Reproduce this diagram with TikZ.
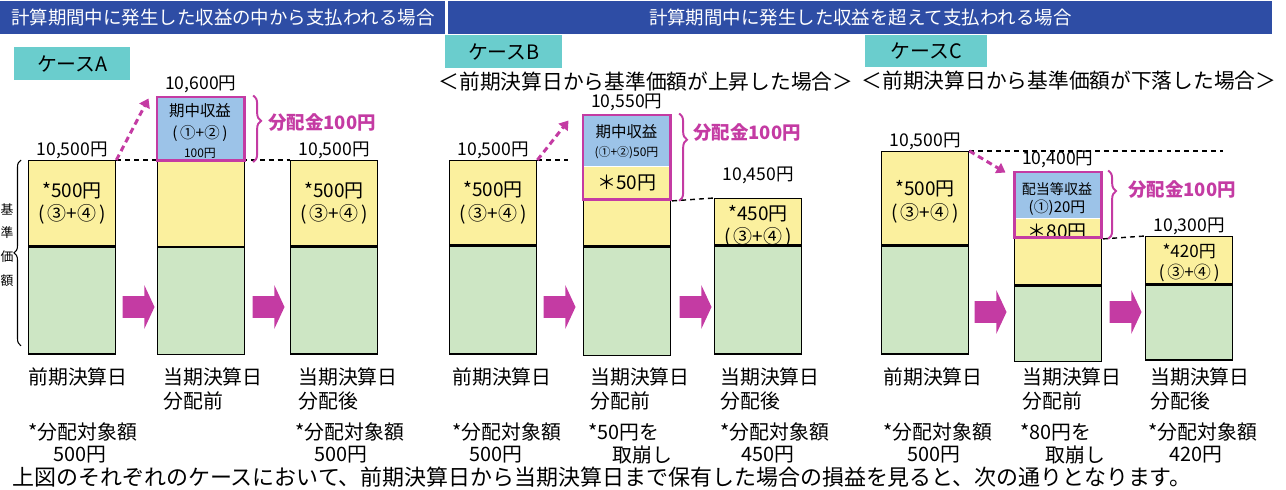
\documentclass[tikz,border=0pt]{standalone}
\usepackage{fontspec}
\setmainfont{Noto Sans CJK JP}
\usetikzlibrary{positioning,arrows.meta,fit,backgrounds,shapes.arrows,decorations.pathreplacing}
\definecolor{hdrblue}{HTML}{2E4DA5}
\definecolor{caseteal}{HTML}{6ACDCD}
\definecolor{baryellow}{HTML}{FBF09E}
\definecolor{bargreen}{HTML}{CDE6C4}
\definecolor{incblue}{HTML}{9CC3E8}
\definecolor{mag}{HTML}{C43BA3}

\begin{document}
\begin{tikzpicture}[x=0.02cm, y=-0.02cm,
      hdr/.style={fill=hdrblue, text=white, inner sep=0, anchor=north west,
                  minimum height=0.66cm, font=\fontsize{10.5}{12}\selectfont},
      casebox/.style={fill=caseteal, inner sep=0, anchor=north west,
                      minimum height=0.66cm, font=\fontsize{11.3}{13}\selectfont},
      subttl/.style={inner sep=0, font=\fontsize{11.8}{14}\selectfont},
      yel/.style={draw, line width=0.8pt, fill=baryellow, minimum width=1.74cm,
                  inner sep=0, anchor=north west},
      grn/.style={draw, line width=0.8pt, fill=bargreen, minimum width=1.74cm,
                  inner sep=0, anchor=north west},
      inc/.style={fill=incblue, minimum width=1.74cm, inner sep=0, anchor=north west},
      incy/.style={fill=baryellow, minimum width=1.74cm, inner sep=0, anchor=north west},
      frm/.style={draw=mag, line width=1.7pt, inner sep=0},
      price/.style={inner sep=0.6pt, font=\fontsize{10}{11}\selectfont},
      val/.style={inner sep=0, align=center, font=\fontsize{10.8}{13.4}\selectfont},
      boxtxt/.style={inner sep=0, font=\fontsize{8.8}{10}\selectfont},
      dist/.style={inner sep=0, anchor=west, text=mag,
                   font=\bfseries\fontsize{10.5}{12}\selectfont},
      lbl/.style={inner sep=0, anchor=west, font=\fontsize{11.3}{13}\selectfont},
      carry/.style={single arrow, fill=mag, inner xsep=0, inner ysep=0.21cm,
                    minimum height=0.64cm, minimum width=0.86cm,
                    single arrow head extend=0.22cm, single arrow tip angle=130,
                    single arrow head indent=0},
      lvline/.style={line width=0.8pt, dash pattern=on 2.8pt off 2.3pt},
      risearrow/.style={mag, line width=1.7pt, dash pattern=on 3.4pt off 2.3pt,
                        -{Triangle[length=5pt,width=6.5pt]}},
      dbrace/.style={decorate, draw=mag, line width=1.1pt,
                     decoration={brace, amplitude=4.5pt, aspect=#1}}
    ]
    \useasboundingbox (0,0) rectangle (1286,490);

    % headers
    \node[hdr, minimum width=8.9cm] (hdra) at (0,1)
      {計算期間中に発生した収益の中から支払われる場合};
    \node[hdr, minimum width=16.48cm] (hdrb) at (448,1)
      {計算期間中に発生した収益を超えて支払われる場合};
    \node[casebox, minimum width=2.32cm] (casea) at (14,47) {ケースA};
    \node[casebox, minimum width=2.34cm] (caseb) at (445,35) {ケースB};
    \node[casebox, minimum width=2.44cm, minimum height=0.64cm] (casec) at (865,35) {ケースC};
    \node[subttl] (subb) at (646,82) {＜前期決算日から基準価額が上昇した場合＞};
    \node[subttl] (subc) at (1069,81) {＜前期決算日から基準価額が下落した場合＞};

    % case A
    \node[yel, minimum height=1.70cm] (a1y) at (28,160) {};
    \node[val] (a1v) at (a1y) {*500円\\(\,③+④\,)};
    \node[grn, minimum height=2.14cm, below=0pt of a1y] (a1g) {};
    \node[inc, minimum height=1.26cm] (a2b) at (157,97) {};
    \node[yel, minimum height=1.70cm, below=0pt of a2b] (a2y) {};
    \node[grn, minimum height=2.14cm, below=0pt of a2y] (a2g) {};
    \node[boxtxt] (a2t1) at (200,111) {期中収益};
    \node[boxtxt] (a2t2) at (200,133) {(\,①+②\,)};
    \node[boxtxt, font=\fontsize{6.8}{8}\selectfont] (a2t3) at (200,153) {100円};
    \node[frm, fit=(a2b)] (a2f) {};
    \node[yel, minimum height=1.70cm] (a3y) at (290,160) {};
    \node[val] (a3v) at (a3y) {*500円\\(\,③+④\,)};
    \node[grn, minimum height=2.14cm, below=0pt of a3y] (a3g) {};

    \node[price, above=0pt of a1y] (a1p) {10,500円};
    \node[price, above=1pt of a2f] (a2p) {10,600円};
    \node[price, above=0pt of a3y] (a3p) {10,500円};
    \draw[dbrace=0.38] ([xshift=0.14cm]a2f.north east) -- ([xshift=0.14cm]a2f.south east);
    \node[dist] (a2d) at (268,123) {分配金100円};

    \node[carry] (a12) at (136,307) {};
    \node[carry] (a23) at (266,307) {};

    \draw[decorate, decoration={brace, amplitude=4pt}, line width=0.6pt]
      ([xshift=-0.14cm, yshift=0.18cm]a1g.south west) -- ([xshift=-0.14cm]a1y.north west);
    \node[val, font=\fontsize{7.3}{13.6}\selectfont] (kijun) at (7,245) {基\\準\\価\\額};

    % case B
    \node[yel, minimum height=1.68cm] (b1y) at (449,160) {};
    \node[val] (b1v) at (b1y) {*500円\\(\,③+④\,)};
    \node[grn, minimum height=2.16cm, below=0pt of b1y] (b1g) {};
    \node[inc, minimum height=1.02cm] (b2b) at (583,115) {};
    \node[incy, minimum height=0.64cm, below=0pt of b2b] (b2t) {};
    \node[yel, minimum height=0.92cm, below=0pt of b2t] (b2y) {};
    \node[grn, minimum height=2.16cm, below=0pt of b2y] (b2g) {};
    \node[boxtxt] (b2t1) at (626.5,132) {期中収益};
    \node[boxtxt, font=\fontsize{6.8}{8}\selectfont] (b2t2) at (626.5,153) {(①+②)50円};
    \node[val] (b2t3) at (b2t) {＊50円};
    \node[frm, fit=(b2b)(b2t)] (b2f) {};
    \node[yel, minimum height=0.92cm] (b3y) at (714,198) {};
    \node[val] (b3v) at ([yshift=-0.09cm]b3y.center) {*450円\\(\,③+④\,)};
    \node[grn, minimum height=2.16cm, below=0pt of b3y] (b3g) {};

    \node[price, above=0pt of b1y] (b1p) {10,500円};
    \node[price, above=1pt of b2f] (b2p) {10,550円};
    \node[price, above=0.26cm of b3y] (b3p) {10,450円};
    \draw[dbrace=0.3] ([xshift=0.14cm]b2f.north east) -- ([xshift=0.14cm]b2f.south east);
    \node[dist] (b2d) at (693,133) {分配金100円};

    \node[carry] (b12) at (557,307) {};
    \node[carry] (b23) at (693,307) {};

    % case C
    \node[yel, minimum height=1.86cm] (c1y) at (881,151) {};
    \node[val] (c1v) at ([yshift=-0.07cm]c1y.center) {*500円\\(\,③+④\,)};
    \node[grn, minimum height=2.16cm, below=0pt of c1y] (c1g) {};
    \node[inc, minimum height=0.92cm] (c2b) at (1014,172) {};
    \node[incy, minimum height=0.36cm, below=0pt of c2b] (c2t) {};
    \node[boxtxt, font=\fontsize{8}{10}\selectfont] (c2t1) at (1057,189) {配当等収益};
    \node[boxtxt, font=\fontsize{8.5}{10}\selectfont] (c2t2) at (1057,208) {(①)20円};
    \node[val] (c2t3) at (1057,232) {＊80円};
    \node[yel, minimum height=0.94cm, below=0pt of c2t] (c2y) {};
    \node[grn, minimum height=1.50cm, below=0pt of c2y] (c2g) {};
    \node[frm, fit=(c2b)(c2t)] (c2f) {};
    \node[yel, minimum height=0.94cm] (c3y) at (1145,236) {};
    \node[val, font=\fontsize{9.7}{12}\selectfont] (c3v) at ([yshift=-0.06cm]c3y.center)
      {*420円\\(\,③+④\,)};
    \node[grn, minimum height=1.50cm, below=0pt of c3y] (c3g) {};

    \node[price, above=0pt of c1y] (c1p) {10,500円};
    \node[price, above=1pt of c2f] (c2p) {10,400円};
    \node[price, above=0pt of c3y] (c3p) {10,300円};
    \draw[dbrace=0.3] ([xshift=0.1cm]c2f.north east) -- ([xshift=0.1cm]c2f.south east);
    \node[dist] (c2d) at (1128,190) {分配金100円};

    \node[carry] (c12) at (988,312) {};
    \node[carry] (c23) at (1123,312) {};

    % level lines
    \coordinate (b1lvl) at (568,160);
    \coordinate (c1lvl) at (1223,151);
    \begin{scope}[on background layer]
      \draw[lvline] (a1y.north east) -- (a3y.north west);
      \draw[lvline] (b1y.north east) -- (b1lvl);
      \draw[lvline] (b2f.south east) -- (b3y.north west);
      \draw[lvline] (c1y.north east) -- (c1lvl);
      \draw[lvline] (c2f.south east) -- (c3y.north west);
    \end{scope}
    \draw[risearrow] (a1y.north east) -- ([xshift=-0.14cm, yshift=-0.06cm]a2f.north west);
    \draw[risearrow] (b1y.north east) -- ([xshift=-0.26cm, yshift=-0.14cm]b2f.north west);
    \draw[risearrow] (c1y.north east) -- ([xshift=-0.14cm, yshift=-0.04cm]c2f.north west);

    % captions
    \node[lbl] (a1n) at (28,377) {前期決算日};
    \node[lbl] (a2n) at (163,377) {当期決算日};
    \node[lbl] (a3n) at (298,377) {当期決算日};
    \node[lbl] (b1n) at (452,377) {前期決算日};
    \node[lbl] (b2n) at (590,377) {当期決算日};
    \node[lbl] (b3n) at (720,377) {当期決算日};
    \node[lbl] (c1n) at (883,377) {前期決算日};
    \node[lbl] (c2n) at (1022,377) {当期決算日};
    \node[lbl] (c3n) at (1150,377) {当期決算日};

    \node[lbl] (a2m) at (163,401) {分配前};
    \node[lbl] (a3m) at (298,401) {分配後};
    \node[lbl] (b2m) at (590,401) {分配前};
    \node[lbl] (b3m) at (720,401) {分配後};
    \node[lbl] (c2m) at (1022,401) {分配前};
    \node[lbl] (c3m) at (1150,401) {分配後};

    \node[lbl] (a1s) at (28,432) {*分配対象額};
    \node[lbl] (a3s) at (295,432) {*分配対象額};
    \node[lbl] (b1s) at (452,432) {*分配対象額};
    \node[lbl] (b2s) at (588,432) {*50円を};
    \node[lbl] (b3s) at (720,432) {*分配対象額};
    \node[lbl] (c1s) at (883,432) {*分配対象額};
    \node[lbl] (c2s) at (1020,432) {*80円を};
    \node[lbl] (c3s) at (1148,432) {*分配対象額};

    \node[lbl] (a1r) at (53,455) {500円};
    \node[lbl] (a3r) at (314,455) {500円};
    \node[lbl] (b1r) at (469,455) {500円};
    \node[lbl] (b2r) at (612,455) {取崩し};
    \node[lbl] (b3r) at (741,455) {450円};
    \node[lbl] (c1r) at (907,455) {500円};
    \node[lbl] (c2r) at (1045,455) {取崩し};
    \node[lbl] (c3r) at (1169,455) {420円};

    \node[lbl, font=\fontsize{12.5}{15}\selectfont] (note) at (12,477)
      {上図のそれぞれのケースにおいて、前期決算日から当期決算日まで保有した場合の損益を見ると、次の通りとなります。};
  \end{tikzpicture}
\end{document}
